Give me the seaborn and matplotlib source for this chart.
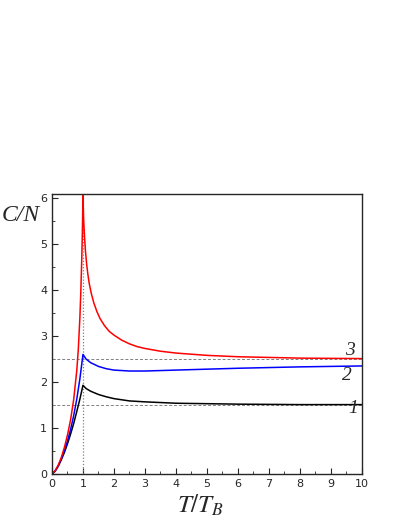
import matplotlib
matplotlib.use("Agg")
import matplotlib.pyplot as plt
import seaborn as sns
import pandas as pd
from matplotlib.ticker import MultipleLocator

# 讀圖估計的資料點
t_black = [0, 0.1, 0.2, 0.3, 0.4, 0.5, 0.6, 0.7, 0.8, 0.9, 1.0, 1.1, 1.25, 1.5, 1.75, 2.0, 2.5, 3.0, 4.0, 5.0, 6.0, 8.0, 10.0]
c_black = [0, 0.06, 0.17, 0.31, 0.47, 0.66, 0.87, 1.10, 1.36, 1.63, 1.93, 1.86, 1.80, 1.73, 1.68, 1.64, 1.59, 1.57, 1.54, 1.53, 1.52, 1.51, 1.51]

t_blue = [0, 0.1, 0.2, 0.3, 0.4, 0.5, 0.6, 0.7, 0.8, 0.9, 1.0, 1.1, 1.25, 1.5, 1.75, 2.0, 2.5, 3.0, 4.0, 5.0, 6.0, 8.0, 10.0]
c_blue = [0, 0.07, 0.18, 0.33, 0.51, 0.72, 0.97, 1.27, 1.63, 2.07, 2.60, 2.50, 2.42, 2.34, 2.29, 2.26, 2.24, 2.24, 2.26, 2.28, 2.30, 2.33, 2.35]

t_red = [0, 0.1, 0.2, 0.3, 0.4, 0.5, 0.6, 0.7, 0.8, 0.85, 0.9, 0.93, 0.96, 0.98, 1.0, 1.02, 1.05, 1.08, 1.12, 1.16, 1.2, 1.27, 1.35, 1.45, 1.55, 1.7, 1.85, 2.0, 2.25, 2.5, 2.75, 3.0, 3.5, 4.0, 5.0, 6.0, 8.0, 10.0]
c_red = [0, 0.07, 0.19, 0.36, 0.58, 0.85, 1.18, 1.62, 2.25, 2.72, 3.40, 3.95, 4.65, 5.25, 6.05, 5.55, 5.15, 4.85, 4.55, 4.33, 4.15, 3.92, 3.72, 3.53, 3.38, 3.22, 3.10, 3.02, 2.91, 2.83, 2.77, 2.73, 2.67, 2.63, 2.58, 2.55, 2.52, 2.51]

curves = [("1", t_black, c_black, "black"), ("2", t_blue, c_blue, "blue"), ("3", t_red, c_red, "red")]
label_pos = {"1": (9.55, 1.33), "2": (9.35, 2.05), "3": (9.45, 2.58)}

sns.set_style("ticks")
fig = plt.figure(figsize=(4.03, 5.21), dpi=100)
ax = fig.add_axes([0.129, 0.090, 0.769, 0.538])

ax.axhline(1.5, color="gray", ls=(0, (3, 2)), lw=0.7)
ax.axhline(2.5, color="gray", ls=(0, (3, 2)), lw=0.7)
ax.axvline(1.0, color="gray", ls=(0, (1, 1.5)), lw=0.9)

for name, t, c, col in curves:
    df = pd.DataFrame({"t": t, "c": c})
    sns.lineplot(data=df, x="t", y="c", color=col, lw=1.1, ax=ax)
    x, y = label_pos[name]
    ax.text(x, y, name, fontsize=14, style="italic", family="Liberation Serif")

ax.set_xlim(0, 10)
ax.set_ylim(0, 6.09)
ax.xaxis.set_major_locator(MultipleLocator(1))
ax.xaxis.set_minor_locator(MultipleLocator(0.5))
ax.yaxis.set_major_locator(MultipleLocator(1))
ax.yaxis.set_minor_locator(MultipleLocator(0.5))
ax.tick_params(which="both", direction="in", top=False, right=False, labelsize=8)
ax.tick_params(which="major", length=4)
ax.tick_params(which="minor", length=2)
for s in ax.spines.values():
    s.set_linewidth(1.0)
ax.set_xlabel("")
ax.set_ylabel("")
fig.text(0.005, 0.575, "C/N", fontsize=17, style="italic", family="Liberation Serif")
fig.text(0.44, 0.015, r"$\mathit{T/T}_{\mathit{B}}$", fontsize=18,
         math_fontfamily="stix")

fig.savefig("out.png", dpi=100)
